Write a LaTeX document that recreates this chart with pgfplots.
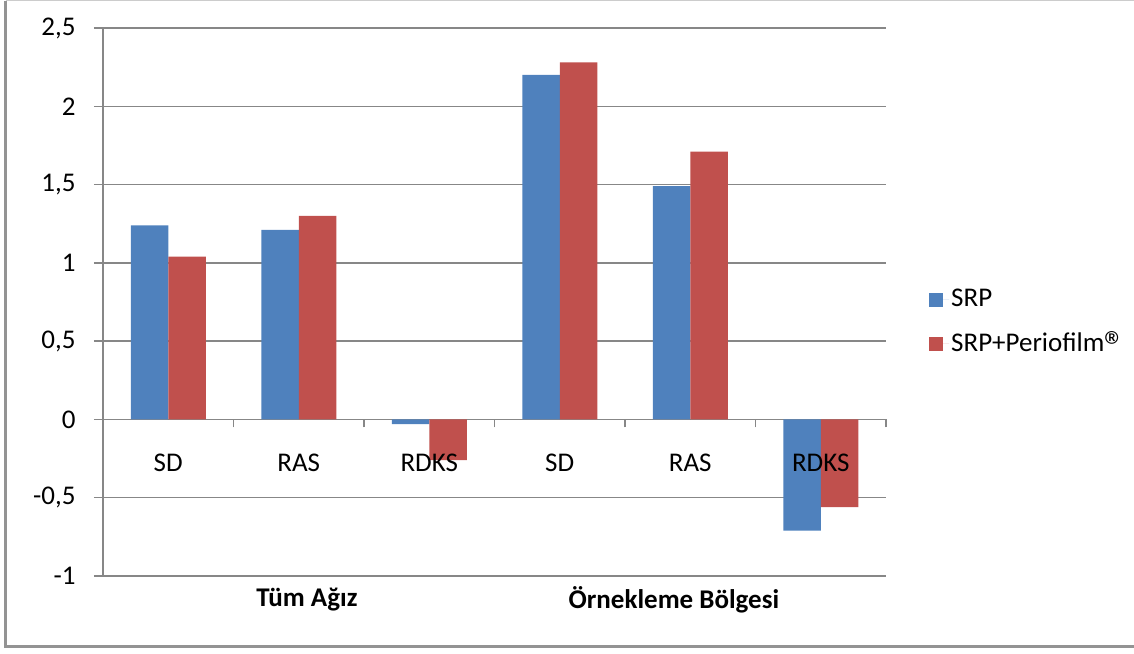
\documentclass[border=0pt]{standalone}
\usepackage{pgfplots}
\pgfplotsset{compat=1.18}
\usepackage{fontspec}
\setmainfont{Carlito}
\definecolor{srpblue}{HTML}{4F81BD}
\definecolor{srpred}{HTML}{C0504D}
\definecolor{gridgray}{HTML}{878787}
\pgfplotsset{
  common/.style={
    at={(103pt,77pt)}, anchor=south west,
    scale only axis, width=783pt, height=548pt,
    xmin=-0.5, xmax=5.5, ymin=-1, ymax=2.5,
    clip=false,
  },
}
\begin{document}
\fontsize{27}{32}\selectfont
\begin{tikzpicture}
\useasboundingbox (0,0) rectangle (1134pt,653pt);
\draw[color=gridgray!90, line width=2.5pt] (1140pt,6.5pt) -- (5.5pt,6.5pt) -- (5.5pt,652pt);
\draw[color=gray!40, line width=1pt] (5.5pt,652.5pt) -- (1140pt,652.5pt);
\begin{axis}[
  common,
  ybar=0pt, bar width=37.5pt,
  axis x line=middle, axis y line=left,
  axis line style={-, gridgray, line width=1.5pt},
  tick align=outside,
  xtick={0,1,2,3,4,5},
  xticklabels={},
  minor xtick={-0.5,0.5,1.5,2.5,3.5,4.5,5.5},
  xtick style={/pgfplots/major tick length=0pt, /pgfplots/minor tick length=8pt, gridgray, line width=1.5pt},
  ytick={-1,-0.5,0,0.5,1,1.5,2,2.5},
  ytick style={/pgfplots/major tick length=9pt, gridgray, line width=1.5pt},
  yticklabel style={anchor=east, xshift=-14pt, /pgf/number format/.cd, use comma, fixed, assume math mode=true},
  ymajorgrids,
  major grid style={gridgray, line width=1.5pt},
  legend image code/.code={\fill[#1] (0pt,-7pt) rectangle (14pt,7pt); \path (0pt,0pt) -- (20pt,0pt);},
  legend style={draw=none, fill=none, at={(1.0549,0.4626)}, anchor=west, inner sep=0pt, row sep=17pt},
  legend cell align=left,
]
\addplot[fill=srpblue, draw=none] coordinates {(0,1.24) (1,1.21) (2,-0.03) (3,2.20) (4,1.49) (5,-0.71)};
\addplot[fill=srpred, draw=none] coordinates {(0,1.04) (1,1.30) (2,-0.26) (3,2.28) (4,1.71) (5,-0.56)};
\legend{SRP, SRP+Periofilm\raisebox{-8.5pt}{\fontsize{42}{42}\selectfont ®}}
\node[font=\bfseries, anchor=center] at (axis cs:1.063,-1) [yshift=-24pt] {Tüm Ağız};
\node[font=\bfseries, anchor=center] at (axis cs:3.875,-1) [yshift=-24pt] {Örnekleme Bölgesi};
\end{axis}
% overlay axis: category tick labels drawn above the bars
\begin{axis}[
  common,
  axis x line=middle, axis y line=none,
  axis line style={draw=none},
  xtick={0,1,2,3,4,5},
  xticklabels={SD,RAS,RDKS,SD,RAS,RDKS},
  xtick style={draw=none},
  xticklabel style={anchor=center, yshift=-41pt},
  ytick=\empty,
]
\end{axis}
\end{tikzpicture}
\end{document}
